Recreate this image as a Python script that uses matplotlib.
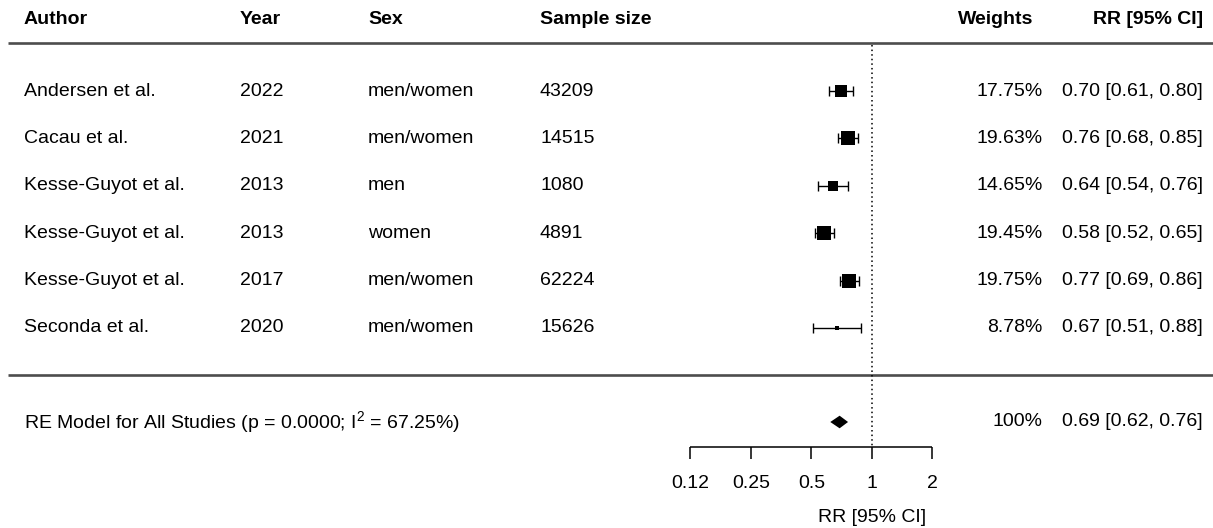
import matplotlib
matplotlib.use("Agg")
import matplotlib.pyplot as plt
import numpy as np

plt.rcParams['font.family'] = ['Liberation Sans', 'DejaVu Sans']
plt.rcParams['mathtext.default'] = 'regular'

# ---- data ----
authors = ["Andersen et al.", "Cacau et al.", "Kesse-Guyot et al.", "Kesse-Guyot et al.",
           "Kesse-Guyot et al.", "Seconda et al."]
years = ["2022", "2021", "2013", "2013", "2017", "2020"]
sexes = ["men/women", "men/women", "men", "women", "men/women", "men/women"]
sample_sizes = ["43209", "14515", "1080", "4891", "62224", "15626"]
weights = [17.75, 19.63, 14.65, 19.45, 19.75, 8.78]
rr = [0.70, 0.76, 0.64, 0.58, 0.77, 0.67]
rr_lo = [0.61, 0.68, 0.54, 0.52, 0.69, 0.51]
rr_hi = [0.80, 0.85, 0.76, 0.65, 0.86, 0.88]
summary_label = "RE Model for All Studies (p = 0.0000; I$^2$ = 67.25%)"
summary_weight = "100%"
summary_rr, summary_lo, summary_hi = 0.69, 0.62, 0.76
tick_values = [0.125, 0.25, 0.5, 1, 2]
tick_labels = ["0.12", "0.25", "0.5", "1", "2"]
headers = ["Author", "Year", "Sex", "Sample size", "Weights", "RR [95% CI]"]
xlabel = "RR [95% CI]"

# ---- layout ----
W, H = 1213, 528
fig = plt.figure(figsize=(W / 100, H / 100), dpi=100)

# text axes in pixel coordinates
tx = fig.add_axes([0, 0, 1, 1])
tx.set_xlim(0, W)
tx.set_ylim(H, 0)
tx.axis('off')

# forest axes: log2 x scale, 1 at px 872, 60.5 px per doubling
fx = fig.add_axes([0, 0, 1, 1])
fx.set_xscale('log', base=2)
px1, per = 872, 60.5
fx.set_xlim(2 ** (-px1 / per), 2 ** ((W - px1) / per))
fx.set_ylim(H, 0)
fx.axis('off')
fx.patch.set_alpha(0)

fs = 14
row_y = 91 + 47.4 * np.arange(len(authors))
header_y = 20
sum_y = 422
axis_y = 447

col_x = [24, 240, 368, 540]
# headers
for h, x in zip(headers[:4], col_x):
    tx.text(x, header_y, h, fontsize=fs, fontweight='bold', ha='left', va='center')
tx.text(1033, header_y, headers[4], fontsize=fs, fontweight='bold', ha='right', va='center')
tx.text(1203, header_y, headers[5], fontsize=fs, fontweight='bold', ha='right', va='center')

# horizontal rules
rule_c = '#4d4d4d'
tx.plot([8, W], [43, 43], color=rule_c, lw=1.9, solid_capstyle='butt')
tx.plot([8, W], [375, 375], color=rule_c, lw=1.9, solid_capstyle='butt')

# study rows
for i in range(len(authors)):
    y = row_y[i]
    for val, x in zip([authors[i], years[i], sexes[i], sample_sizes[i]], col_x):
        tx.text(x, y, val, fontsize=fs, ha='left', va='center')
    tx.text(1043, y, f"{weights[i]:.2f}%", fontsize=fs, ha='right', va='center')
    tx.text(1203, y, f"{rr[i]:.2f} [{rr_lo[i]:.2f}, {rr_hi[i]:.2f}]",
            fontsize=fs, ha='right', va='center')

# summary row
tx.text(24, sum_y, summary_label, fontsize=fs, ha='left', va='center')
tx.text(1043, sum_y, summary_weight, fontsize=fs, ha='right', va='center')
tx.text(1203, sum_y, f"{summary_rr:.2f} [{summary_lo:.2f}, {summary_hi:.2f}]",
        fontsize=fs, ha='right', va='center')

# reference line at 1
fx.plot([1, 1], [45, axis_y], color='black', lw=1.1, linestyle=(0, (1, 2)))

# CIs and squares
w = np.array(weights)
norm = (w - w.min()) / (w.max() - w.min())
side_px = 9.13 * (0.5 + norm)
rr_a, lo_a, hi_a = np.array(rr), np.array(rr_lo), np.array(rr_hi)
fx.errorbar(rr_a, row_y, xerr=[rr_a - lo_a, hi_a - rr_a], fmt='none',
            ecolor='black', elinewidth=1.0, capsize=3.3, capthick=1.0)
for i in range(len(rr)):
    fx.plot(rr[i], row_y[i], marker='s', markersize=side_px[i] * 0.72,
            color='black', markeredgewidth=0, linestyle='none')

# summary diamond
dh = 6.3
fx.fill([summary_lo, summary_rr, summary_hi, summary_rr],
        [sum_y, sum_y - dh, sum_y, sum_y + dh], color='black', lw=0)

# x axis
fx.plot([tick_values[0], tick_values[-1]], [axis_y, axis_y], color='black', lw=1.1,
        solid_capstyle='butt')
for tv, tl in zip(tick_values, tick_labels):
    fx.plot([tv, tv], [axis_y, axis_y + 12], color='black', lw=1.1, solid_capstyle='butt')
    fx.text(tv, 483, tl, fontsize=fs, ha='center', va='center')
fx.text(1, 517, xlabel, fontsize=fs, ha='center', va='center')

fig.savefig("out.png", dpi=100)
